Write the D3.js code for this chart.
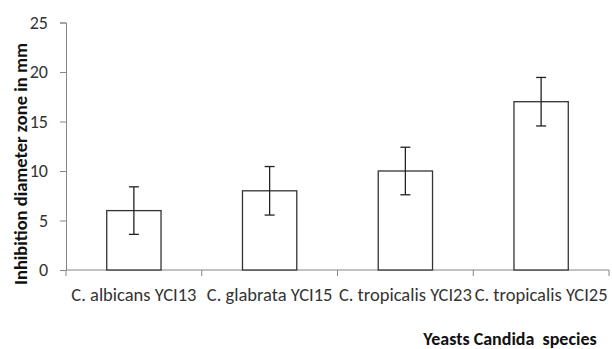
<!DOCTYPE html>
<html><head><meta charset="utf-8">
<script src="https://cdn.jsdelivr.net/npm/d3@7"></script>
<style>body{margin:0;background:#fff}svg{display:block}</style>
</head><body>
<svg id="c" width="612" height="349"></svg>
<script>
const categories = ["C. albicans YCI13", "C. glabrata YCI15", "C. tropicalis YCI23", "C. tropicalis YCI25"];
const values = [6, 8, 10, 17];
const errors = [2.4, 2.45, 2.4, 2.45];
const yTicks = [0, 5, 10, 15, 20, 25];

const font = "Carlito, Lato, 'Liberation Sans', sans-serif";
const svg = d3.select("#c");
const mLeft = 66, mRight = 609, mTop = 22.5, mBottom = 270;

const x = d3.scaleBand().domain(categories).range([mLeft, mRight]).paddingInner(0.6).paddingOuter(0.3);
const xb = d3.scaleBand().domain(categories).range([mLeft, mRight]);
const y = d3.scaleLinear().domain([0, 25]).range([mBottom, mTop]);
const axisColor = "#868686";

// y axis
const ya = svg.append("g").attr("transform", `translate(${mLeft},0)`)
  .call(d3.axisLeft(y).tickValues(yTicks).tickSize(6).tickPadding(12));
ya.select(".domain").attr("stroke", axisColor);
ya.selectAll(".tick line").attr("stroke", axisColor);
ya.selectAll(".tick text").attr("fill", "#333").style("font-family", font).style("font-size", "18px");

// x axis
const xa = svg.append("g").attr("transform", `translate(0,${mBottom})`);
xa.append("line").attr("x1", mLeft).attr("x2", mRight).attr("stroke", axisColor);
const bounds = categories.map(c => xb(c)).concat([mRight]);
xa.selectAll("line.t").data(bounds).join("line").attr("class", "t")
  .attr("x1", d => d).attr("x2", d => d).attr("y1", 0).attr("y2", 6).attr("stroke", axisColor);
xa.selectAll("text").data(categories).join("text")
  .attr("x", d => xb(d) + xb.bandwidth() / 2).attr("y", 31)
  .attr("text-anchor", "middle").attr("fill", "#333")
  .style("font-family", font).style("font-size", "18.5px").text(d => d);

// bars
svg.selectAll("rect.bar").data(categories).join("rect").attr("class", "bar")
  .attr("x", d => x(d)).attr("width", x.bandwidth())
  .attr("y", (d, i) => y(values[i])).attr("height", (d, i) => y(0) - y(values[i]))
  .attr("fill", "#fff").attr("stroke", "#333").attr("stroke-width", 1.3);

// error bars
const eb = svg.selectAll("g.err").data(categories).join("g").attr("class", "err")
  .attr("transform", d => `translate(${x(d) + x.bandwidth() / 2},0)`);
eb.append("line").attr("y1", (d, i) => y(values[i] + errors[i])).attr("y2", (d, i) => y(values[i] - errors[i]))
  .attr("stroke", "#222").attr("stroke-width", 1.3);
eb.append("line").attr("x1", -5).attr("x2", 5).attr("y1", (d, i) => y(values[i] + errors[i])).attr("y2", (d, i) => y(values[i] + errors[i]))
  .attr("stroke", "#222").attr("stroke-width", 1.3);
eb.append("line").attr("x1", -5).attr("x2", 5).attr("y1", (d, i) => y(values[i] - errors[i])).attr("y2", (d, i) => y(values[i] - errors[i]))
  .attr("stroke", "#222").attr("stroke-width", 1.3);

// titles
svg.append("text").attr("transform", "translate(27,164) rotate(-90)")
  .attr("text-anchor", "middle").attr("font-weight", "bold").attr("fill", "#111")
  .style("font-family", font).style("font-size", "18.5px").text("Inhibition diameter zone in mm");
svg.append("text").attr("x", 510).attr("y", 345)
  .attr("text-anchor", "middle").attr("font-weight", "bold").attr("fill", "#111")
  .style("font-family", font).style("font-size", "18px").style("white-space", "pre")
  .text("Yeasts Candida  species");
</script>
</body></html>
